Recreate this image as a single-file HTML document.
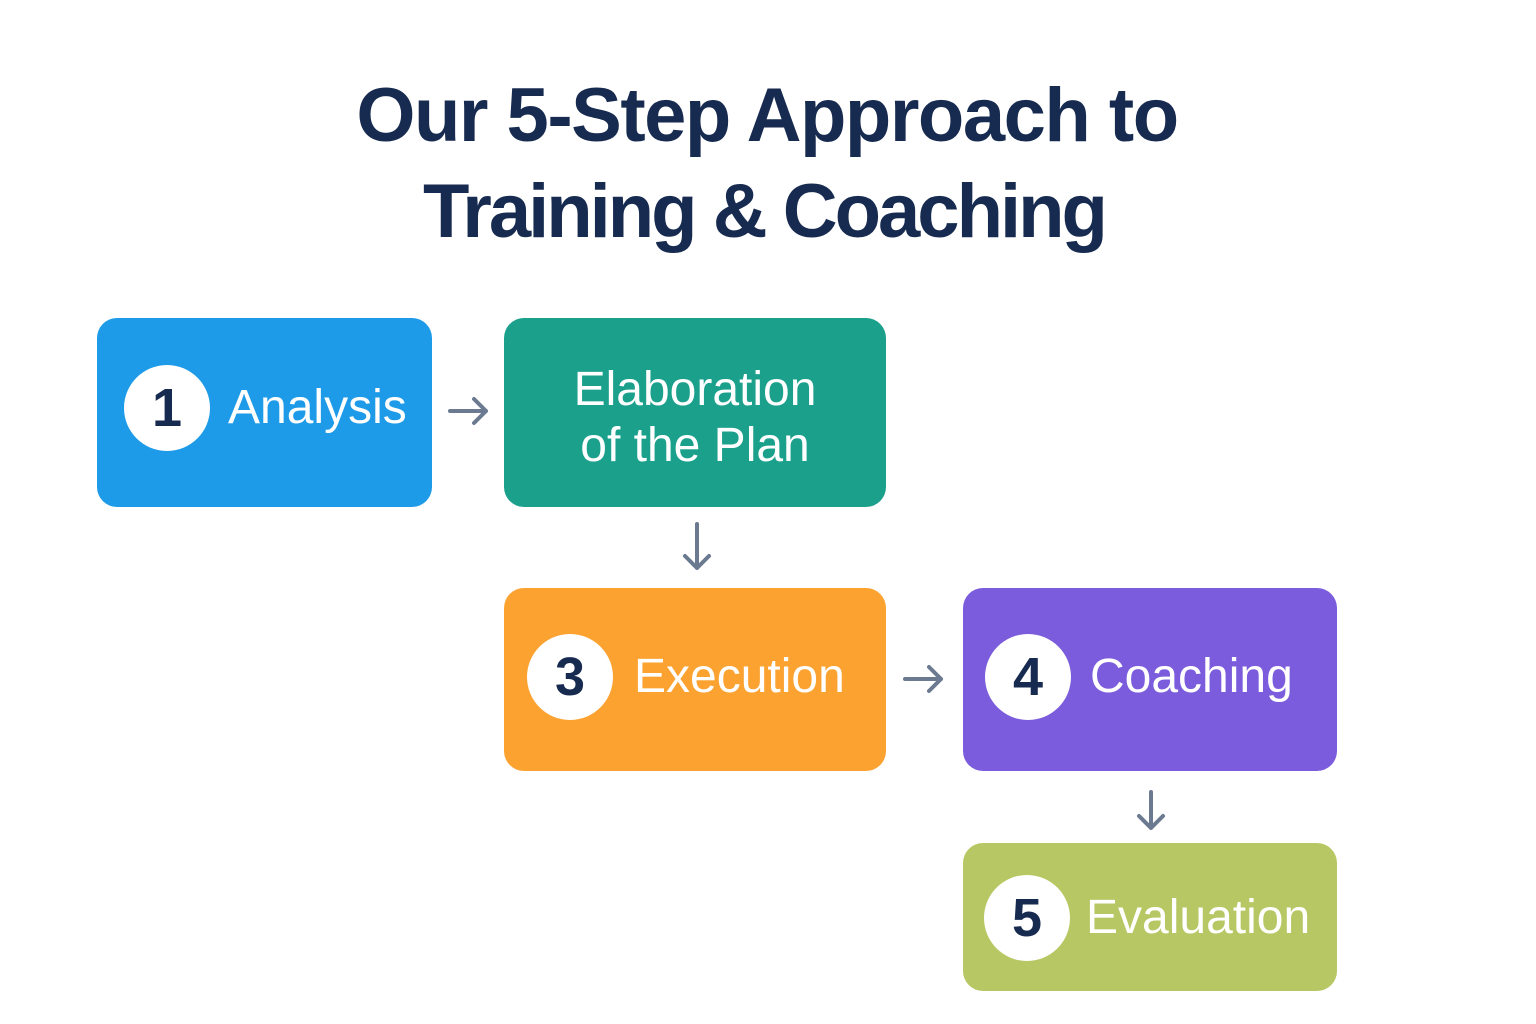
<!DOCTYPE html>
<html><head><meta charset="utf-8"><style>
body{margin:0;width:1536px;height:1024px;background:#fff;position:relative;overflow:hidden;font-family:"Liberation Sans",sans-serif}
.t{position:absolute;left:0;width:1536px;text-align:center;color:#172a4f;font-weight:bold;font-size:76px;letter-spacing:-1.5px}
.b{position:absolute;border-radius:20px}
.c{position:absolute;width:86px;height:86px;border-radius:50%;background:#fff;color:#172a4f;font-size:54px;font-weight:bold;text-align:center;line-height:86px}
.l{position:absolute;color:#fff;font-size:48px;line-height:56px;white-space:nowrap}
</style></head><body>
<div class="t" style="top:72px;left:-1px">Our 5-Step Approach to</div>
<div class="t" style="top:168px;left:-4px;letter-spacing:-3px">Training &amp; Coaching</div>

<div class="b" style="left:97px;top:318px;width:335px;height:189px;background:#1e9be8"></div>
<div class="c" style="left:124px;top:365px">1</div>
<div class="l" style="left:228px;top:380px">Analysis</div>

<div class="b" style="left:504px;top:318px;width:382px;height:189px;background:#1ba08c"></div>
<div class="l" style="left:504px;width:382px;text-align:center;top:362px">Elaboration<br>of the Plan</div>

<div class="b" style="left:504px;top:588px;width:382px;height:183px;background:#fca230"></div>
<div class="c" style="left:527px;top:634px">3</div>
<div class="l" style="left:634px;top:649px">Execution</div>

<div class="b" style="left:963px;top:588px;width:374px;height:183px;background:#7b5cdc"></div>
<div class="c" style="left:985px;top:634px">4</div>
<div class="l" style="left:1090px;top:649px">Coaching</div>

<div class="b" style="left:963px;top:843px;width:374px;height:148px;background:#b7c763"></div>
<div class="c" style="left:984px;top:875px">5</div>
<div class="l" style="left:1086px;top:890px">Evaluation</div>

<svg width="1536" height="1024" style="position:absolute;left:0;top:0" fill="none" stroke="#6b7a90" stroke-width="4" stroke-linecap="round" stroke-linejoin="round">
<path d="M450 411H486M474 399L486 411L474 423"/>
<path d="M697 524V568M685 556L697 568L709 556"/>
<path d="M905 679H941M929 667L941 679L929 691"/>
<path d="M1151 792V828M1139 816L1151 828L1163 816"/>
</svg>
</body></html>
